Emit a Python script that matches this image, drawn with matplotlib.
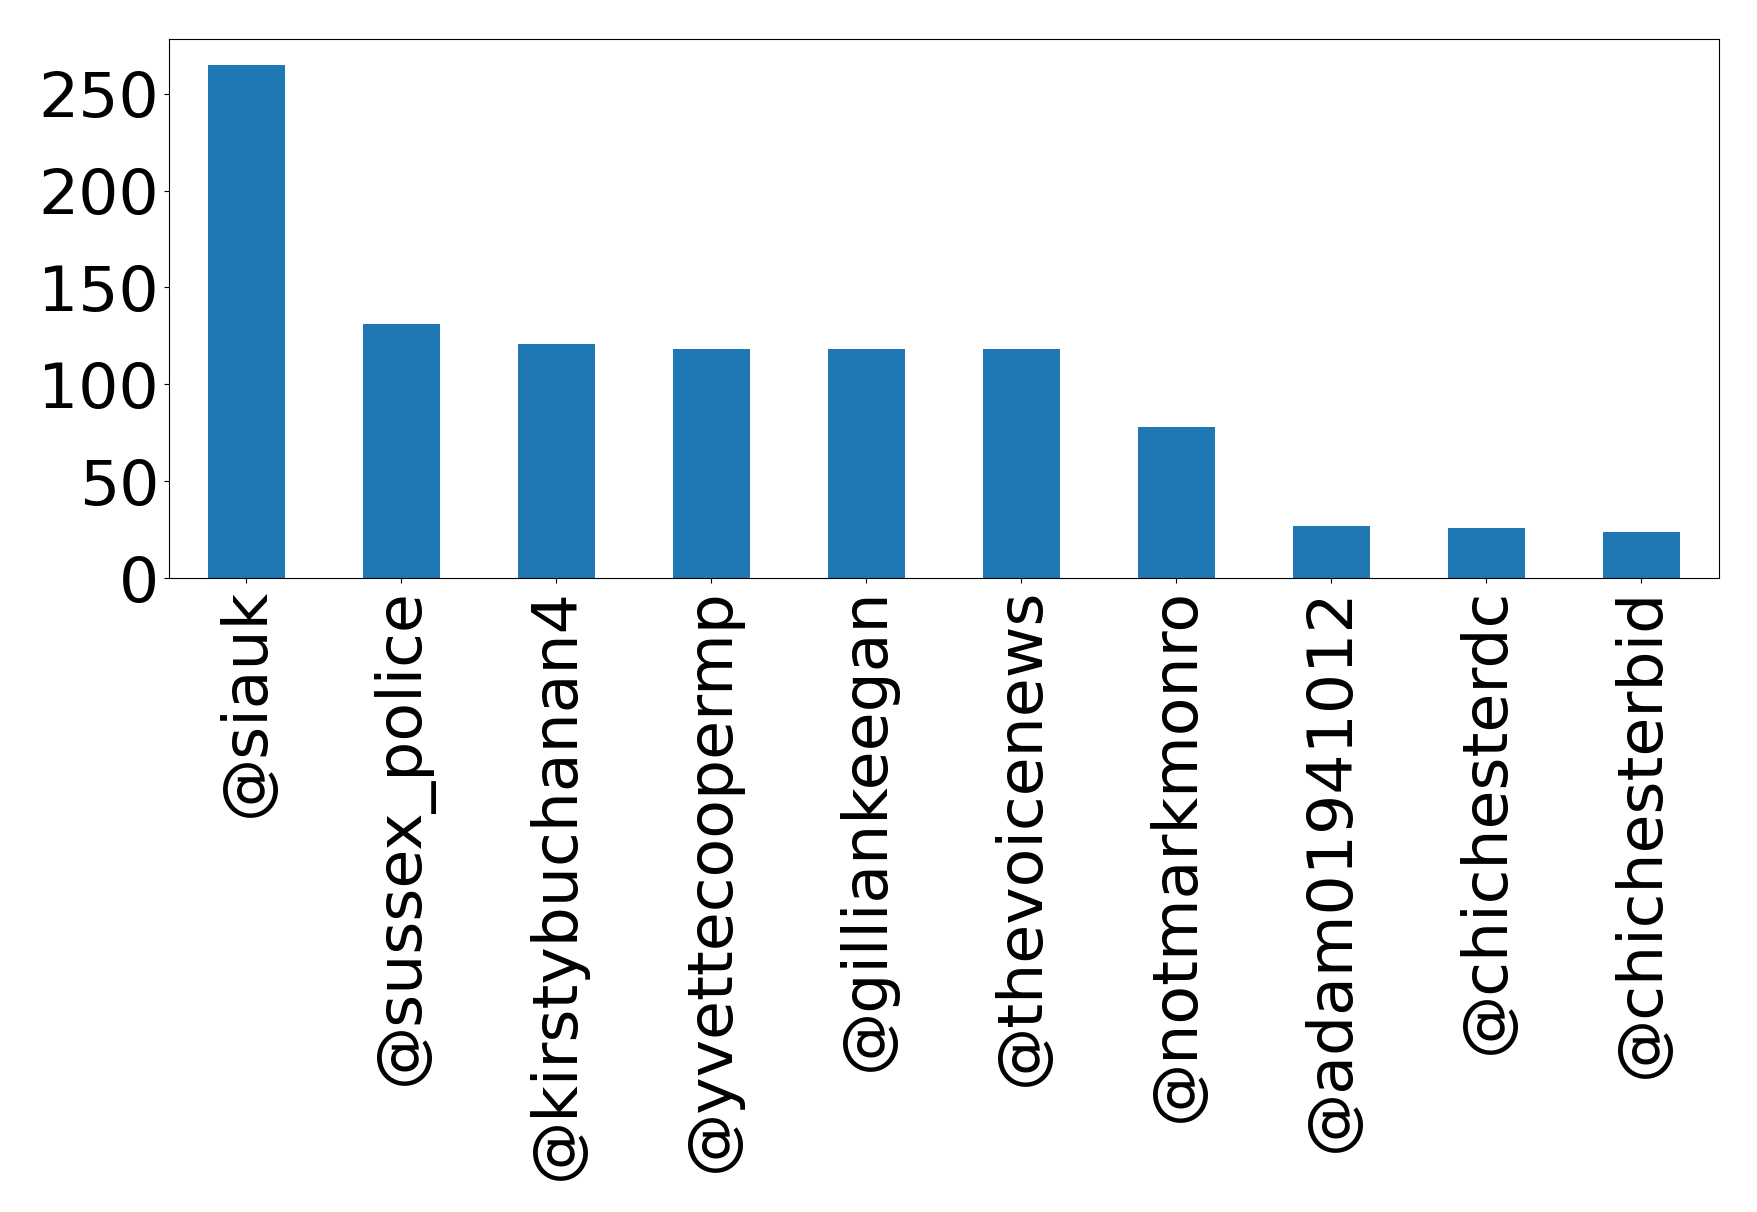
import matplotlib
matplotlib.use("Agg")
import matplotlib.pyplot as plt
import pandas as pd

handles = ['@siauk', '@sussex_police', '@kirstybuchanan4', '@yvettecoopermp',
           '@gilliankeegan', '@thevoicenews', '@notmarkmonro', '@adam01941012',
           '@chichesterdc', '@chichesterbid']
counts = [265, 131, 121, 118, 118, 118, 78, 27, 26, 24]

s = pd.Series(counts, index=handles)

fig = plt.figure(figsize=(17.58, 12.12), dpi=100)
ax = fig.add_axes([0.0961, 0.5231, 0.8817, 0.4447])
s.plot(kind='bar', ax=ax, color='#1f77b4', fontsize=45.5)
ax.set_yticks([0, 50, 100, 150, 200, 250])

fig.savefig("out.png", dpi=100)
